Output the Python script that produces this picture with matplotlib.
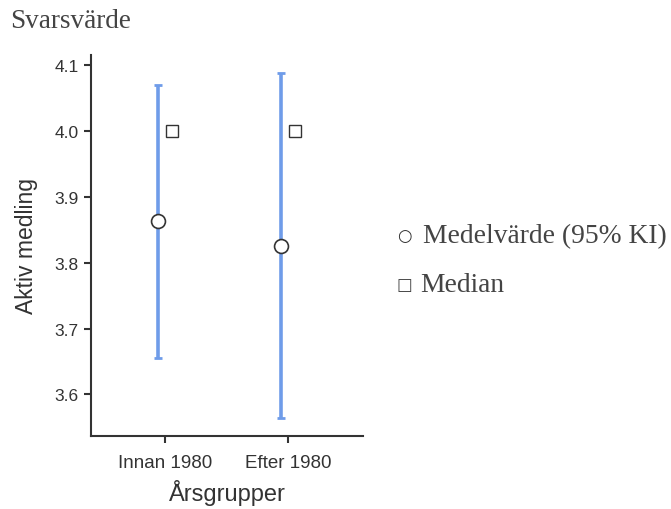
import matplotlib
matplotlib.use("Agg")
import matplotlib.pyplot as plt
import numpy as np

# Data
groups = ["Innan 1980", "Efter 1980"]
means = [3.863, 3.826]
ci_low = [3.656, 3.564]
ci_high = [4.069, 4.088]
medians = [4.0, 4.0]

W, H = 671, 510
fig = plt.figure(figsize=(W / 100, H / 100), dpi=100)
ax = fig.add_axes([91 / W, 1 - 437 / H, (363 - 91) / W, (437 - 56) / H])

x = np.arange(len(groups))
off = 0.055
means = np.array(means)
yerr = [means - np.array(ci_low), np.array(ci_high) - means]
ax.errorbar(x - off, means, yerr=yerr, fmt='none', ecolor='#6f9ce9',
            elinewidth=2.6, capsize=3, capthick=2, zorder=2)
ax.plot(x - off, means, 'o', ms=10, mfc='white', mec='#333333', mew=1.2, zorder=3)
ax.plot(x + off, medians, 's', ms=8, mfc='white', mec='#333333', mew=1.0, zorder=3)

ax.set_xlim(-0.603, 1.61)
ax.set_ylim(3.537, 4.115)
ax.set_xticks(x)
ax.set_xticklabels(groups)
ax.set_yticks([3.6, 3.7, 3.8, 3.9, 4.0, 4.1])
ax.set_yticklabels(["3.6", "3.7", "3.8", "3.9", "4.0", "4.1"])

for s in ['top', 'right']:
    ax.spines[s].set_visible(False)
for s in ['left', 'bottom']:
    ax.spines[s].set_color('#333333')
    ax.spines[s].set_linewidth(1.5)
ax.tick_params(axis='both', colors='#333333', width=1.5, length=5)
ax.tick_params(axis='y', labelsize=12.5, labelcolor='#333333', pad=4)
ax.tick_params(axis='x', labelsize=13.5, labelcolor='#333333', pad=8)
for lab in ax.get_xticklabels() + ax.get_yticklabels():
    lab.set_family('Liberation Sans')

ax.set_xlabel("Årsgrupper", fontsize=17, family='Liberation Sans', color='#333333', labelpad=6)
ax.set_ylabel("Aktiv medling", fontsize=16.5, family='Liberation Sans', color='#333333', labelpad=12)

serif = ['Liberation Serif', 'DejaVu Serif']
fig.text(10 / W, 1 - 22 / H, "Svarsvärde", fontsize=19.5, family=serif,
         color='#444444', va='center', ha='left')
# legend: small symbol glyphs followed by the labels
fig.text(397 / W, 1 - 236 / H, "○", fontsize=12, family=['DejaVu Sans'],
         color='#333333', fontweight='bold', va='center', ha='left')
fig.text(423 / W, 1 - 237 / H, "Medelvärde (95% KI)", fontsize=19.8, family=serif,
         color='#444444', va='center', ha='left')
fig.text(397 / W, 1 - 285 / H, "□", fontsize=12, family=['DejaVu Sans'],
         color='#444444', va='center', ha='left')
fig.text(420 / W, 1 - 285 / H, "Median", fontsize=19.8, family=serif,
         color='#444444', va='center', ha='left')

fig.savefig("out.png", dpi=100)
